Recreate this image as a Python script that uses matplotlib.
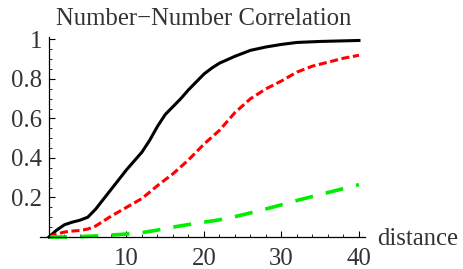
import matplotlib
matplotlib.use('Agg')
from matplotlib import pyplot as plt
from matplotlib.ticker import MultipleLocator, FixedLocator
import numpy as np

# Data
black_x = [0, 1, 2, 3, 4, 5, 6, 7, 8, 9, 10, 11, 12, 13, 14, 15, 16, 17, 18, 19,
           20, 21, 22, 24, 26, 28, 30, 32, 35, 40]
black_y = [0, 0.035, 0.062, 0.075, 0.085, 0.10, 0.14, 0.19, 0.24, 0.29, 0.34, 0.385,
           0.43, 0.49, 0.56, 0.62, 0.66, 0.70, 0.745, 0.785, 0.825, 0.855, 0.88,
           0.915, 0.945, 0.962, 0.975, 0.985, 0.99, 0.995]

red_x = [0, 1, 2, 3, 4, 5, 6, 7, 8, 10, 12, 14, 16, 18, 20, 22, 24, 26, 28, 30,
         32, 34, 36, 38, 40]
red_y = [0, 0.015, 0.025, 0.03, 0.033, 0.04, 0.055, 0.08, 0.105, 0.15, 0.195, 0.26,
         0.32, 0.39, 0.47, 0.54, 0.63, 0.70, 0.75, 0.79, 0.835, 0.865, 0.885, 0.905,
         0.92]

green_x = [0, 2, 4, 6, 8, 10, 12, 14, 16, 18, 20, 22, 24, 26, 28, 30, 32, 34, 36,
           38, 40]
green_y = [0, 0.0, 0.002, 0.005, 0.01, 0.015, 0.022, 0.035, 0.05, 0.063, 0.075,
           0.087, 0.103, 0.122, 0.142, 0.163, 0.185, 0.205, 0.225, 0.245, 0.265]

x_ticks = [10, 20, 30, 40]
y_ticks = [0.2, 0.4, 0.6, 0.8, 1.0]
y_labels = ['0.2', '0.4', '0.6', '0.8', '1']

plt.rcParams['font.family'] = ['Liberation Serif', 'DejaVu Serif']
plt.rcParams['lines.scale_dashes'] = False

fig = plt.figure(figsize=(4.63, 2.69), dpi=100)
ax = fig.add_axes([0.0857, 0.119, 0.703, 0.7416])

ax.plot(black_x, black_y, color='black', lw=2.2, clip_on=False)
ax.plot(red_x, red_y, color='#ff0000', lw=2.2, dashes=(5.8, 2.6), clip_on=False)
ax.plot(green_x, green_y, color='#00ee00', lw=2.6, dashes=(13, 9.5), clip_on=False)

ax.set_xlim(-1.2, 40.8)
ax.set_ylim(0, 1.01)

# Mathematica-style axes crossing at the origin
ax.spines['left'].set_position(('data', 0))
ax.spines['top'].set_visible(False)
ax.spines['right'].set_visible(False)
ax.spines['left'].set_linewidth(0.9)
ax.spines['bottom'].set_linewidth(0.9)

ax.xaxis.set_major_locator(FixedLocator(x_ticks))
ax.xaxis.set_minor_locator(MultipleLocator(2))
ax.set_yticks(y_ticks)
ax.set_yticklabels(y_labels)
ax.yaxis.set_minor_locator(MultipleLocator(0.05))

ax.tick_params(axis='both', which='major', direction='in', length=4, width=0.8,
               labelsize=17.8, colors='black')
ax.tick_params(axis='both', which='minor', direction='in', length=2, width=0.6)
ax.tick_params(axis='x', which='major', pad=8)
ax.tick_params(axis='y', which='major', pad=5)
for lbl in ax.get_xticklabels() + ax.get_yticklabels():
    lbl.set_color('#333333')

fig.text(204 / 463, 1 - 25 / 269, 'Number\u2212Number Correlation', ha='center',
         va='baseline', fontsize=17.8, color='#333333')
fig.text(377 / 463, 1 - 245 / 269, 'distance', ha='left', va='baseline',
         fontsize=17.8, color='#333333')

fig.savefig('out.png', dpi=100)
